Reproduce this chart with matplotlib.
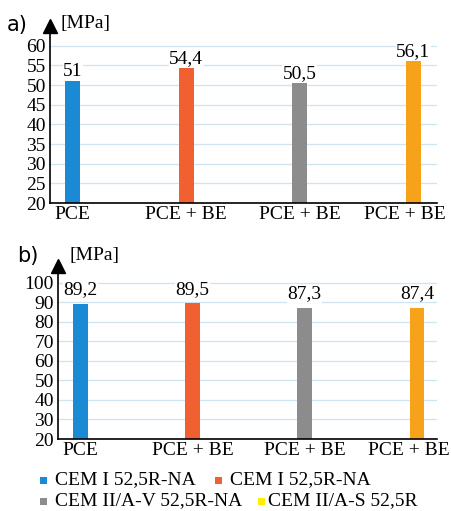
import matplotlib
matplotlib.use("Agg")
import matplotlib.pyplot as plt
from matplotlib.patches import Rectangle
from matplotlib.transforms import ScaledTranslation

categories = ["PCE", "PCE + BE", "PCE + BE", "PCE + BE"]
values_a = [51, 54.4, 50.5, 56.1]
values_b = [89.2, 89.5, 87.3, 87.4]
labels_a = ["51", "54,4", "50,5", "56,1"]
labels_b = ["89,2", "89,5", "87,3", "87,4"]
bar_colors = ["#1a8ad4", "#f06030", "#8c8c8c", "#f7a21b"]
legend_labels = ["CEM I 52,5R-NA", "CEM I 52,5R-NA", "CEM II/A-V 52,5R-NA", "CEM II/A-S 52,5R"]
legend_colors = ["#1a8ad4", "#f06030", "#8c8c8c", "#ffee00"]
yticks_a = [20, 25, 30, 35, 40, 45, 50, 55, 60]
yticks_b = [20, 30, 40, 50, 60, 70, 80, 90, 100]

W, H = 452, 511
fig = plt.figure(figsize=(W / 100, H / 100), dpi=100)
serif = "Liberation Serif"
FS = 14


def px_axes(left, bottom_px, right, top_px):
    return fig.add_axes([left / W, (H - bottom_px) / H, (right - left) / W, (bottom_px - top_px) / H])


def draw_panel(ax, vals, labs, yticks, ylim, xlim, label_off, tag, tag_xy, unit_xy):
    x = list(range(len(vals)))
    ax.bar(x, vals, width=0.13, color=bar_colors, zorder=3, bottom=0)
    ax.set_xlim(*xlim)
    ax.set_ylim(*ylim)
    ax.set_yticks(yticks)
    ax.set_yticklabels([str(t) for t in yticks], family=serif, fontsize=FS)
    ax.set_xticks(x)
    ax.set_xticklabels(categories, family=serif, fontsize=FS)
    ax.tick_params(length=0, pad=3)
    ax.tick_params(axis="x", pad=2)
    # last category label nudged left to stay inside the figure
    lbl = ax.get_xticklabels()[-1]
    lbl.set_transform(lbl.get_transform() + ScaledTranslation(-0.08, 0, fig.dpi_scale_trans))
    for s in ["top", "right"]:
        ax.spines[s].set_visible(False)
    for s in ["left", "bottom"]:
        ax.spines[s].set_linewidth(1.2)
        ax.spines[s].set_zorder(5)
    for t in yticks[1:]:
        ax.axhline(t, color="#cfe3f0", lw=0.9, zorder=1)
    for xi, v, l in zip(x, vals, labs):
        ax.text(xi, v + label_off, l, ha="center", va="bottom", family=serif, fontsize=FS,
                zorder=4, bbox=dict(facecolor="white", edgecolor="none", pad=0.3))
    ax.plot(0, 1, marker="^", color="black", ms=10, transform=ax.transAxes, clip_on=False, zorder=6)
    fig.text(tag_xy[0] / W, 1 - tag_xy[1] / H, tag, family="DejaVu Sans", fontsize=15, va="center", ha="left")
    fig.text(unit_xy[0] / W, 1 - unit_xy[1] / H, "[MPa]", family=serif, fontsize=FS, va="center", ha="left")


ax1 = px_axes(50, 203, 437, 26)
draw_panel(ax1, values_a, labels_a, yticks_a, (20, 65), (-0.2, 3.21), 0.2, "a)", (7, 25), (60, 23))

ax2 = px_axes(58, 439, 437, 266)
draw_panel(ax2, values_b, labels_b, yticks_b, (20, 108.7), (-0.2, 3.18), 2.8, "b)", (17, 256), (70, 255))

# legend (flowing text rows)
sq_pos = [(40, 480), (215, 480), (40, 501), (258, 501)]
txt_x = [55, 230, 55, 268]
for (px, py), tx, lab, col in zip(sq_pos, txt_x, legend_labels, legend_colors):
    fig.patches.append(Rectangle((px / W, 1 - (py + 4) / H), 7 / W, 7 / H, transform=fig.transFigure,
                                 facecolor=col, edgecolor="none"))
    fig.text(tx / W, 1 - py / H, lab, family=serif, fontsize=FS, va="center", ha="left")

fig.savefig("out.png", dpi=100)
